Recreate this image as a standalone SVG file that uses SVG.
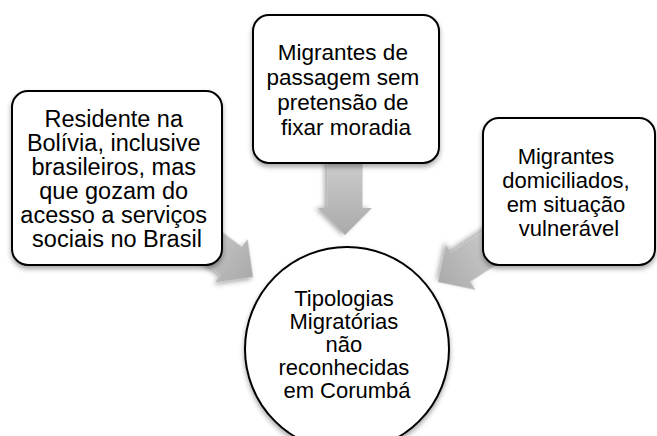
<svg xmlns="http://www.w3.org/2000/svg" width="657" height="436" viewBox="0 0 657 436">
  <defs>
    <linearGradient id="arrowGrad" x1="0" y1="0" x2="1" y2="0">
      <stop offset="0" stop-color="#cbcbcb"/>
      <stop offset="1" stop-color="#aaaaaa"/>
    </linearGradient>
    <filter id="shadow" x="-20%" y="-20%" width="140%" height="140%">
      <feDropShadow dx="0" dy="3" stdDeviation="2.5" flood-color="#000" flood-opacity="0.35"/>
    </filter>
    <polygon id="arrowShape" points="0,-17.5 45,-17.5 45,-27 72,0 45,27 45,17.5 0,17.5"/>
  </defs>
  <style>
    .node { fill: #ffffff; stroke: #000000; stroke-width: 2; filter: url(#shadow); }
    .arrow { fill: url(#arrowGrad); filter: url(#shadow); }
    text { font-family: "Liberation Sans", Arial, sans-serif; fill: #000000; text-anchor: middle; }
  </style>

  <g id="connectors">
    <use href="#arrowShape" class="arrow" transform="translate(345,235) rotate(90) translate(-72,0)"/>
    <use href="#arrowShape" class="arrow" transform="translate(253,277) rotate(36.87) translate(-72,0)"/>
    <use href="#arrowShape" class="arrow" transform="translate(438,282) rotate(146.8) translate(-72,0)"/>
  </g>

  <g id="node-left">
    <rect class="node" x="12" y="91" width="210" height="174" rx="16" ry="16"/>
    <text font-size="23.5">
      <tspan x="117" y="127">Residente na</tspan>
      <tspan x="117" y="151">Bolívia, inclusive</tspan>
      <tspan x="117" y="175">brasileiros, mas</tspan>
      <tspan x="117" y="199">que gozam do</tspan>
      <tspan x="117" y="223">acesso a serviços</tspan>
      <tspan x="117" y="247">sociais no Brasil</tspan>
    </text>
  </g>

  <g id="node-top">
    <rect class="node" x="253" y="15" width="186" height="148" rx="16" ry="16"/>
    <text font-size="22.5">
      <tspan x="346" y="60">Migrantes de</tspan>
      <tspan x="346" y="85">passagem sem</tspan>
      <tspan x="346" y="110">pretensão de</tspan>
      <tspan x="346" y="135">fixar moradia</tspan>
    </text>
  </g>

  <g id="node-right">
    <rect class="node" x="483" y="118" width="172" height="147" rx="16" ry="16"/>
    <text font-size="22">
      <tspan x="569" y="164">Migrantes</tspan>
      <tspan x="569" y="188">domiciliados,</tspan>
      <tspan x="569" y="212">em situação</tspan>
      <tspan x="569" y="236">vulnerável</tspan>
    </text>
  </g>

  <g id="node-center">
    <circle class="node" cx="347" cy="349" r="102"/>
    <text font-size="22">
      <tspan x="347" y="306">Tipologias</tspan>
      <tspan x="347" y="329">Migratórias</tspan>
      <tspan x="347" y="352">não</tspan>
      <tspan x="347" y="375">reconhecidas</tspan>
      <tspan x="347" y="398">em Corumbá</tspan>
    </text>
  </g>
</svg>
